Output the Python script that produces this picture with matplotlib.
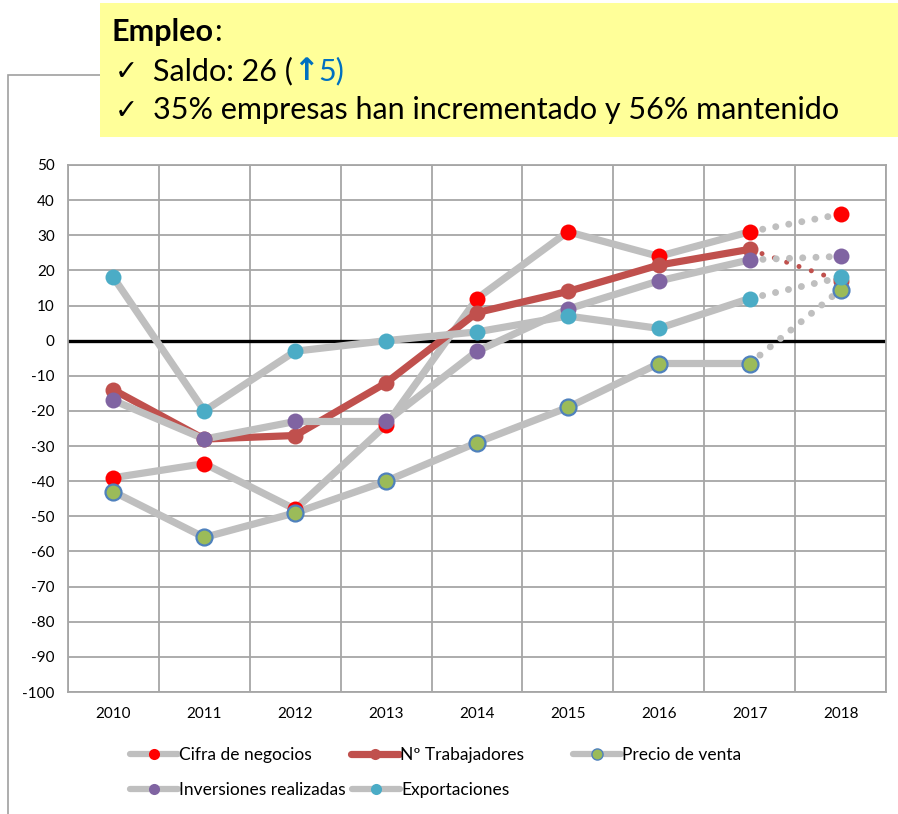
import matplotlib
matplotlib.use("Agg")
import matplotlib.pyplot as plt
from matplotlib.lines import Line2D
from matplotlib.patches import Rectangle
import numpy as np

years = ["2010", "2011", "2012", "2013", "2014", "2015", "2016", "2017", "2018"]
cifra_negocios = [-39, -35, -48, -24, 12, 31, 24, 31, 36]
trabajadores = [-14, -28, -27, -12, 8, 14, 21.5, 26, 17]
precio_venta = [-43, -56, -49, -40, -29, -19, -6.5, -6.5, 14.5]
inversiones = [-17, -28, -23, -23, -3, 9, 17, 23, 24]
exportaciones = [18, -20, -3, 0, 2.5, 7, 3.5, 12, 18]
y_ticks = list(range(-100, 51, 10))

W, H = 898, 814
FONT = ["Lato", "DejaVu Sans"]
plt.rcParams["font.family"] = FONT
plt.rcParams["axes.unicode_minus"] = False
fig = plt.figure(figsize=(W / 100, H / 100), dpi=100)

# outer frame
fig.add_artist(Rectangle((8 / W, -0.1), 1.2, (H - 75) / H + 0.1, transform=fig.transFigure,
                         facecolor="none", edgecolor="#A0A0A0", lw=1.2, zorder=0))

ax = fig.add_axes([68 / W, (H - 692) / H, (886 - 68) / W, (692 - 165) / H])
x = np.arange(len(years))
ax.set_xlim(-0.5, len(years) - 0.5)
ax.set_ylim(-100, 50)
ax.set_yticks(y_ticks)
ax.set_xticks(x)
ax.set_xticklabels(years)
ax.set_xticks(np.arange(-0.5, len(years), 1.0), minor=True)
ax.grid(True, which="major", axis="y", color="#A6A6A6", lw=1.3)
ax.grid(True, which="minor", axis="x", color="#A6A6A6", lw=1.3)
ax.tick_params(which="both", length=0)
ax.tick_params(axis="y", pad=9.5, labelsize=11)
ax.tick_params(axis="x", pad=11, labelsize=11)
for s in ax.spines.values():
    s.set_color("#A6A6A6")
    s.set_linewidth(1.3)
ax.axhline(0, color="black", lw=2.4, zorder=1.5)
ax.set_axisbelow(True)

GRAY = "#BFBFBF"
series = [
    ("Cifra de negocios", cifra_negocios, GRAY, "#FF0000", "#FF0000"),
    ("Nº Trabajadores", trabajadores, "#C0504D", "#C0504D", "#C0504D"),
    ("Precio de venta", precio_venta, GRAY, "#9BBB59", "#4F81BD"),
    ("Inversiones realizadas", inversiones, GRAY, "#8064A2", "#8064A2"),
    ("Exportaciones", exportaciones, GRAY, "#4BACC6", "#4BACC6"),
]

handles = []
for i, (name, vals, lc, mc, ec) in enumerate(series):
    v = np.array(vals, dtype=float)
    z = 2 + i * 0.1
    ax.plot(x[:8], v[:8], color=lc, lw=5.2, solid_capstyle="round", solid_joinstyle="round", zorder=z)
    if lc == GRAY:
        ax.plot(x[7:], v[7:], color=GRAY, lw=5.0, linestyle=(0, (0.01, 1.9)),
                dash_capstyle="round", zorder=z)
    else:
        ax.plot(x[7:], v[7:], color=lc, lw=3.6, linestyle=(0, (0.01, 2.6)),
                dash_capstyle="round", zorder=z)
    ax.plot(x, v, linestyle="none", marker="o", ms=11.5, mfc=mc, mec=ec,
            mew=1.6 if ec != mc else 0, zorder=3 + i * 0.1)
    handles.append(Line2D([0], [0], color=lc, lw=5.2 if lc != GRAY else 4.5, marker="o", ms=8,
                          mfc=mc, mec=ec, mew=1.0 if ec != mc else 0, solid_capstyle="round"))

# legend entries placed individually
positions = [(130, 755), (351, 755), (573, 755), (130, 790), (352, 790)]
for (name, *_), h, (px, py) in zip(series, handles, positions):
    fig.legend([h], [name], loc="center left", bbox_to_anchor=(px / W, 1 - py / H),
               frameon=False, handlelength=2.75, handletextpad=0.1, borderpad=0,
               borderaxespad=0, fontsize=12.5)

# yellow box
fig.add_artist(Rectangle((100 / W, 1 - 137 / H), 1.0, (137 - 3) / H, transform=fig.transFigure,
                         facecolor="#FFFF99", edgecolor="none", zorder=5))
fsz = 22
renderer = fig.canvas.get_renderer()


def chain(prev, txt, **kw):
    bb = prev.get_window_extent(renderer)
    x0 = bb.x1 / W
    y0 = prev.get_position()[1]
    return fig.text(x0, y0, txt, fontsize=fsz, va="baseline", ha="left", zorder=6, **kw)


t1 = fig.text(112 / W, 1 - 41 / H, "Empleo", fontsize=fsz, fontweight="bold", va="baseline",
              ha="left", zorder=6)
chain(t1, ":")
fig.text(115 / W, 1 - 80 / H, "✓", fontsize=fsz - 2, va="baseline", ha="left", zorder=6)
t2 = fig.text(153 / W, 1 - 80 / H, "Saldo: 26 (", fontsize=fsz, va="baseline", ha="left",
              zorder=6)
t3 = chain(t2, "↑", fontweight="bold", color="#0070C0", family=["DejaVu Sans"])
chain(t3, "5)", color="#0070C0")
fig.text(115 / W, 1 - 119 / H, "✓", fontsize=fsz - 2, va="baseline", ha="left", zorder=6)
fig.text(153 / W, 1 - 119 / H, "35% empresas han incrementado y 56% mantenido", fontsize=fsz,
         va="baseline", ha="left", zorder=6)

fig.savefig("out.png", dpi=100)
